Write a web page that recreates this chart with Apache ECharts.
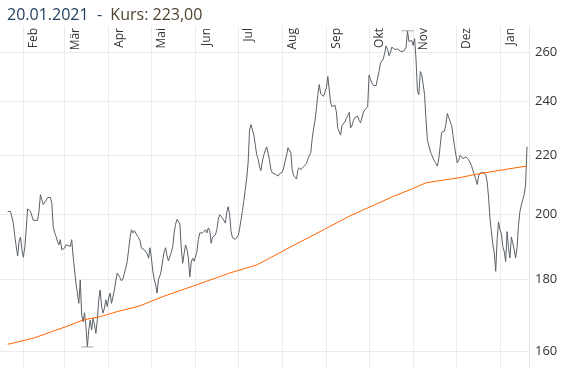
<!DOCTYPE html>
<html><head><meta charset="utf-8">
<script src="https://cdn.jsdelivr.net/npm/echarts@6/dist/echarts.min.js"></script>
<style>html,body{margin:0;padding:0;background:#fff}#c{width:567px;height:368px}</style>
</head><body><div id="c"></div>
<script>
// Kurs (daily close)
const kurs = [
['2020-01-21',200.8],['2020-01-23',200.7],['2020-01-25',197.0],['2020-01-26',192.8],['2020-01-27',189.7],['2020-01-28',186.8],['2020-01-29',191.2],['2020-01-30',192.6],['2020-01-31',188.7],
['2020-02-01',186.4],['2020-02-02',189.3],['2020-02-03',194.9],['2020-02-04',201.6],['2020-02-06',200.8],['2020-02-07',201.3],['2020-02-08',197.9],['2020-02-11',197.9],['2020-02-12',200.8],['2020-02-13',206.3],['2020-02-14',204.6],['2020-02-15',203.0],['2020-02-16',203.6],['2020-02-17',204.4],['2020-02-18',205.3],['2020-02-20',205.4],['2020-02-21',203.5],['2020-02-22',195.9],['2020-02-23',194.0],['2020-02-24',192.8],['2020-02-25',191.2],['2020-02-26',190.2],['2020-02-27',191.8],['2020-02-28',188.7],['2020-02-29',189.3],
['2020-03-01',189.2],['2020-03-02',190.2],['2020-03-03',190.7],['2020-03-05',189.7],['2020-03-06',191.8],['2020-03-07',186.6],['2020-03-08',182.6],['2020-03-09',178.7],['2020-03-10',175.9],['2020-03-11',173.0],['2020-03-12',179.7],['2020-03-13',169.8],['2020-03-14',167.9],['2020-03-15',170.4],['2020-03-16',166.6],['2020-03-17',161.2],['2020-03-18',165.7],['2020-03-19',168.4],['2020-03-20',165.7],['2020-03-21',168.9],['2020-03-22',167.1],['2020-03-23',164.8],['2020-03-24',168.4],['2020-03-25',174.0],['2020-03-26',176.8],['2020-03-27',172.1],['2020-03-28',170.3],['2020-03-29',171.6],['2020-03-30',174.0],['2020-03-31',172.1],
['2020-04-01',174.5],['2020-04-02',175.9],['2020-04-03',173.0],['2020-04-04',173.5],['2020-04-05',176.8],['2020-04-06',179.4],['2020-04-07',181.7],['2020-04-08',181.7],['2020-04-09',180.3],['2020-04-10',179.4],['2020-04-11',180.0],['2020-04-12',181.7],['2020-04-13',183.2],['2020-04-14',185.1],['2020-04-15',188.7],['2020-04-16',192.4],['2020-04-17',194.9],['2020-04-18',193.9],['2020-04-19',194.6],['2020-04-20',195.2],['2020-04-21',193.1],['2020-04-22',192.4],['2020-04-23',191.5],['2020-04-24',189.2],['2020-04-25',188.8],['2020-04-26',188.7],['2020-04-27',188.2],['2020-04-28',187.5],['2020-04-29',186.1],['2020-04-30',189.3],
['2020-05-01',186.2],['2020-05-02',182.3],['2020-05-03',179.9],['2020-05-04',178.3],['2020-05-05',175.9],['2020-05-06',179.9],['2020-05-07',180.9],['2020-05-08',182.6],['2020-05-09',185.6],['2020-05-10',188.1],['2020-05-11',189.3],['2020-05-12',186.8],['2020-05-13',185.3],['2020-05-14',185.9],['2020-05-15',187.9],['2020-05-16',189.7],['2020-05-17',193.9],['2020-05-18',196.6],['2020-05-19',198.2],['2020-05-20',198.4],['2020-05-21',196.8],['2020-05-22',189.3],['2020-05-23',184.6],['2020-05-24',187.5],['2020-05-25',190.2],['2020-05-26',188.8],['2020-05-27',186.2],['2020-05-28',180.6],['2020-05-29',185.0],['2020-05-30',186.1],['2020-05-31',185.2],
['2020-06-01',185.5],['2020-06-02',188.1],['2020-06-03',191.8],['2020-06-04',193.9],['2020-06-05',194.1],['2020-06-06',193.9],['2020-06-07',194.4],['2020-06-08',194.9],['2020-06-09',193.9],['2020-06-10',195.5],['2020-06-11',194.6],['2020-06-12',190.7],['2020-06-13',192.6],['2020-06-14',192.4],['2020-06-15',193.3],['2020-06-16',194.9],['2020-06-17',198.2],['2020-06-18',199.7],['2020-06-19',199.1],['2020-06-20',198.6],['2020-06-21',197.8],['2020-06-22',197.0],['2020-06-23',200.5],['2020-06-24',202.3],['2020-06-25',199.7],['2020-06-26',194.3],['2020-06-27',192.4],['2020-06-28',191.8],['2020-06-29',191.9],['2020-06-30',192.1],
['2020-07-01',193.0],['2020-07-02',195.2],['2020-07-03',198.1],['2020-07-04',201.0],['2020-07-05',204.3],['2020-07-06',208.0],['2020-07-07',211.9],['2020-07-08',217.3],['2020-07-09',229.2],['2020-07-10',231.1],['2020-07-11',230.6],['2020-07-12',227.2],['2020-07-13',223.7],['2020-07-14',220.1],['2020-07-15',218.5],['2020-07-16',215.9],['2020-07-17',214.5],['2020-07-18',217.8],['2020-07-19',219.9],['2020-07-20',221.6],['2020-07-21',222.9],['2020-07-22',223.1],['2020-07-23',218.3],['2020-07-24',214.8],['2020-07-25',213.7],['2020-07-26',213.5],['2020-07-27',213.3],['2020-07-28',213.1],['2020-07-29',212.6],['2020-07-30',213.4],['2020-07-31',213.1],
['2020-08-01',213.9],['2020-08-02',215.5],['2020-08-03',217.8],['2020-08-04',219.9],['2020-08-05',222.6],['2020-08-06',223.3],['2020-08-07',220.8],['2020-08-08',214.8],['2020-08-09',212.7],['2020-08-10',212.1],['2020-08-11',211.6],['2020-08-12',214.8],['2020-08-13',215.5],['2020-08-14',214.8],['2020-08-15',215.3],['2020-08-16',215.9],['2020-08-17',216.2],['2020-08-18',216.9],['2020-08-19',218.7],['2020-08-20',219.0],['2020-08-21',220.8],['2020-08-22',225.8],['2020-08-23',229.5],['2020-08-24',232.6],['2020-08-25',237.2],['2020-08-26',242.6],['2020-08-27',246.6],['2020-08-28',242.9],['2020-08-29',242.4],['2020-08-30',241.9],['2020-08-31',241.8],
['2020-09-01',245.4],['2020-09-02',249.8],['2020-09-03',249.4],['2020-09-04',239.3],['2020-09-05',237.9],['2020-09-06',237.9],['2020-09-07',238.5],['2020-09-08',236.0],['2020-09-09',229.7],['2020-09-10',229.5],['2020-09-11',227.2],['2020-09-12',230.8],['2020-09-13',231.2],['2020-09-14',232.1],['2020-09-15',233.4],['2020-09-16',234.5],['2020-09-17',235.7],['2020-09-18',229.9],['2020-09-19',230.7],['2020-09-20',232.6],['2020-09-21',233.8],['2020-09-22',234.4],['2020-09-23',234.2],['2020-09-24',232.6],['2020-09-25',231.8],['2020-09-26',233.6],['2020-09-27',235.8],['2020-09-28',236.6],['2020-09-29',236.2],['2020-09-30',237.9],
['2020-10-01',250.4],['2020-10-02',248.6],['2020-10-03',247.2],['2020-10-04',246.2],['2020-10-05',245.6],['2020-10-06',246.2],['2020-10-07',249.2],['2020-10-08',251.8],['2020-10-09',255.3],['2020-10-10',255.1],['2020-10-11',257.0],['2020-10-12',259.6],['2020-10-13',262.5],['2020-10-14',261.0],['2020-10-15',258.4],['2020-10-16',259.6],['2020-10-17',262.0],['2020-10-18',261.4],['2020-10-19',261.0],['2020-10-20',260.5],['2020-10-21',261.2],['2020-10-22',261.6],['2020-10-23',260.3],['2020-10-24',259.7],['2020-10-25',260.1],['2020-10-26',259.9],['2020-10-27',261.8],['2020-10-28',269.0],['2020-10-29',264.4],['2020-10-30',265.2],['2020-10-31',264.8],
['2020-11-01',262.7],['2020-11-02',265.6],['2020-11-03',256.8],['2020-11-04',243.9],['2020-11-05',242.6],['2020-11-06',251.8],['2020-11-07',250.6],['2020-11-08',250.2],['2020-11-09',242.6],['2020-11-10',233.0],['2020-11-11',225.3],['2020-11-12',224.7],['2020-11-13',221.4],['2020-11-14',220.1],['2020-11-15',218.8],['2020-11-16',217.8],['2020-11-17',216.9],['2020-11-18',216.1],['2020-11-19',218.7],['2020-11-20',223.3],['2020-11-21',228.2],['2020-11-22',228.5],['2020-11-23',228.7],['2020-11-24',231.2],['2020-11-25',235.3],['2020-11-26',233.7],['2020-11-27',233.0],['2020-11-28',230.8],['2020-11-29',227.0],['2020-11-30',223.3],
['2020-12-01',220.1],['2020-12-02',217.2],['2020-12-03',218.1],['2020-12-04',219.9],['2020-12-05',219.5],['2020-12-06',218.7],['2020-12-07',218.8],['2020-12-08',219.3],['2020-12-09',218.8],['2020-12-10',218.3],['2020-12-11',217.8],['2020-12-12',216.2],['2020-12-13',214.5],['2020-12-14',213.1],['2020-12-15',211.4],['2020-12-16',209.7],['2020-12-17',212.7],['2020-12-18',213.6],['2020-12-19',213.3],['2020-12-20',213.9],['2020-12-21',213.4],['2020-12-22',213.1],['2020-12-23',210.7],['2020-12-24',205.3],['2020-12-25',198.4],['2020-12-26',194.3],['2020-12-27',190.2],['2020-12-28',187.8],['2020-12-29',182.2],['2020-12-30',191.8],['2020-12-31',197.4],
['2021-01-01',194.9],['2021-01-02',193.6],['2021-01-03',189.7],['2021-01-04',188.1],['2021-01-05',185.1],['2021-01-06',194.3],['2021-01-07',189.3],['2021-01-08',186.2],['2021-01-09',192.6],['2021-01-10',190.8],['2021-01-11',188.7],['2021-01-12',186.2],['2021-01-13',189.3],['2021-01-14',196.2],['2021-01-15',200.7],['2021-01-16',202.8],['2021-01-17',204.6],['2021-01-18',206.3],['2021-01-19',209.5],['2021-01-20',223.0]
];
// 200-Tage-Linie
const sma200 = [
['2020-01-21',161.9],['2020-02-08',163.5],['2020-03-02',166.6],['2020-03-14',168.4],['2020-03-26',169.3],['2020-04-07',170.7],['2020-04-23',172.3],['2020-05-09',174.9],['2020-06-02',178.3],['2020-06-25',181.7],['2020-07-14',184.1],['2020-07-23',186.1],['2020-08-04',188.9],['2020-08-30',194.9],['2020-09-17',199.2],['2020-10-08',203.6],['2020-10-18',205.7],['2020-10-30',208.0],['2020-11-10',210.3],['2020-12-04',212.1],['2020-12-14',213.1],['2020-12-27',214.2],['2021-01-20',216.1]
];
const monthStarts = ['2020-02-01','2020-03-01','2020-04-01','2020-05-01','2020-06-01','2020-07-01','2020-08-01','2020-09-01','2020-10-01','2020-11-01','2020-12-01','2021-01-01'];
const monthLabels = ['Feb','Mär','Apr','Mai','Jun','Jul','Aug','Sep','Okt','Nov','Dez','Jan'];
const yTicks = [160,180,200,220,240,260];
const titleDate = '20.01.2021';
const titleKurs = 'Kurs: 223,00';

const DAY = 864e5;
const parse = s => new Date(s + 'T00:00:00').getTime();
const labelPos = monthStarts.map(s => parse(s) + 7.5 * DAY);
const labelOf = v => {
  let best = 0, bd = Infinity;
  labelPos.forEach((p, i) => { const d = Math.abs(p - v); if (d < bd) { bd = d; best = i; } });
  return monthLabels[best];
};
const toXY = arr => arr.map(([d, v]) => [parse(d), v]);

const FONT = 'Open Sans';
const chart = echarts.init(document.getElementById('c'), null, {renderer: 'canvas'});
chart.setOption({
  animation: false,
  backgroundColor: '#fff',
  title: {
    left: 7, top: 0, padding: 0,
    text: '{d|' + titleDate + '  -  }{k|' + titleKurs + '}',
    textStyle: {
      fontWeight: 'normal',
      rich: {
        d: {fontFamily: FONT, fontSize: 16, fontWeight: 'normal', color: '#24405e', lineHeight: 30},
        k: {fontFamily: FONT, fontSize: 16, fontWeight: 'normal', color: '#4f4431', lineHeight: 30}
      }
    }
  },
  grid: {left: 0, right: 38, top: 26, bottom: 0, containLabel: false, outerBoundsMode: 'none'},
  xAxis: {
    type: 'value', position: 'top',
    min: parse('2020-01-15') + 0.6 * DAY,
    max: parse('2021-01-21') + 0.4 * DAY,
    axisLine: {show: false},
    splitLine: {show: false},
    axisTick: {show: true, inside: true, length: 342, customValues: monthStarts.map(parse),
      lineStyle: {color: '#ebebeb', width: 1}},
    axisLabel: {show: true, inside: true, rotate: -90, margin: 2, align: 'right', verticalAlign: 'middle',
      customValues: labelPos, formatter: v => labelOf(v),
      fontFamily: FONT, fontSize: 12, color: '#333'}
  },
  yAxis: {
    type: 'log', position: 'right',
    min: 155.8, max: 271.1,
    axisLine: {show: true, lineStyle: {color: '#e6e6e6'}},
    splitLine: {show: false},
    axisTick: {show: true, inside: true, length: 529, customValues: yTicks, lineStyle: {color: '#ebebeb', width: 1}},
    axisLabel: {show: true, margin: 6, customValues: yTicks, formatter: v => String(Math.round(v)),
      fontFamily: FONT, fontSize: 13, color: '#333'}
  },
  series: [
    {
      type: 'line', data: toXY(kurs), symbol: 'none', showSymbol: false, z: 3,
      lineStyle: {color: '#5b6168', width: 1},
      markPoint: {
        symbol: 'rect', symbolSize: [12, 1], silent: true,
        itemStyle: {color: '#a6a6a6'},
        label: {show: false},
        data: [{type: 'max'}, {type: 'min'}]
      }
    },
    {
      type: 'line', data: toXY(sma200), symbol: 'none', showSymbol: false, z: 4,
      lineStyle: {color: '#ff6600', width: 1}
    }
  ]
});
</script></body></html>
